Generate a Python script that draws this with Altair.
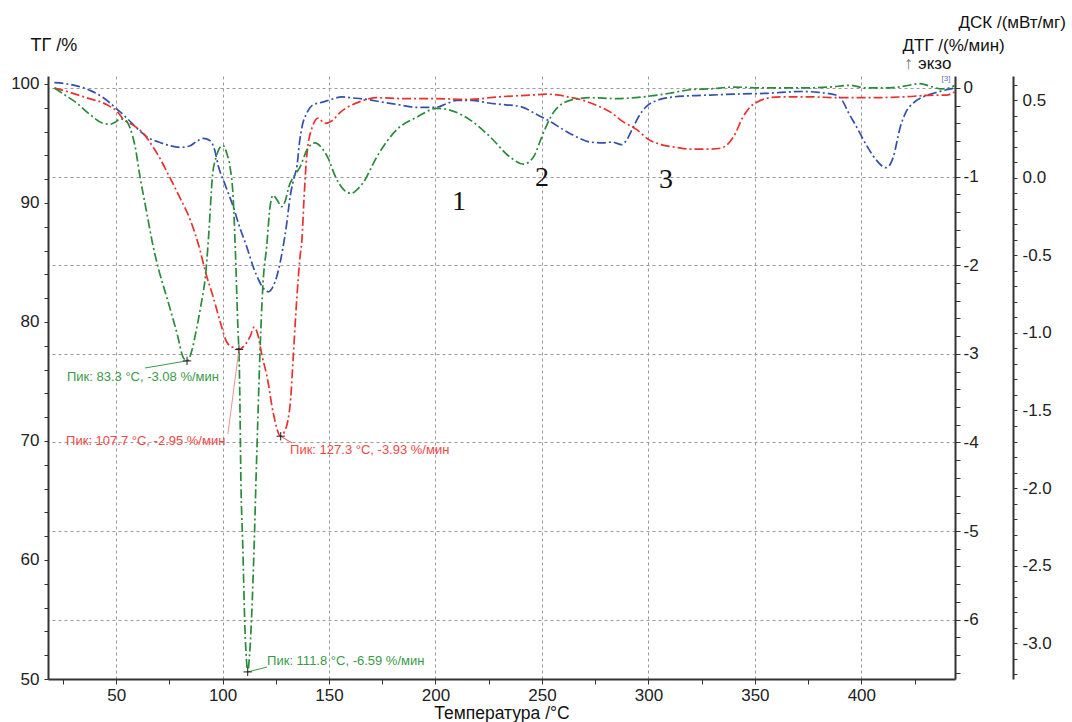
import altair as alt
import pandas as pd

# ---------------- data (T in °C, DTG in %/min) ----------------
blue_t = [21, 26, 32, 38, 44, 50, 55, 60, 65, 70, 75, 80, 84.5, 88, 90.8, 93, 95, 96.5, 98, 101,
          105, 108, 111.3, 114.4, 117, 119.5, 121.5, 123.5, 126, 128, 130, 131.7, 133.5, 135, 136.2,
          137.3, 139.6, 142.5, 147, 151, 156, 160, 168, 175, 183, 191, 200, 205, 210, 217,
          225, 233, 240, 247.6, 254, 260, 266, 272.5, 278.6, 283, 287.5, 290, 292.7, 296, 299,
          304, 309, 318, 329, 340, 356, 372, 380, 388, 391, 394, 398, 403, 408, 411.3,
          413, 415, 418.3, 421, 424.4, 429, 434, 440, 444]
blue_v = [0.06, 0.05, 0.02, -0.03, -0.11, -0.23, -0.34, -0.46, -0.56, -0.61, -0.65, -0.67, -0.655, -0.60, -0.57,
          -0.58, -0.62, -0.72, -0.88, -1.08, -1.34, -1.57, -1.79, -2.02, -2.17, -2.27, -2.30, -2.25, -2.08, -1.85,
          -1.55, -1.23, -1.02, -0.87, -0.60, -0.44, -0.28, -0.19, -0.16, -0.13, -0.10, -0.11, -0.13, -0.16, -0.19,
          -0.22, -0.22, -0.18, -0.14, -0.14, -0.17, -0.19, -0.21, -0.30, -0.38, -0.47, -0.55, -0.61, -0.62, -0.61,
          -0.64, -0.58, -0.45, -0.30, -0.21, -0.14, -0.11, -0.09, -0.08, -0.07, -0.06, -0.04, -0.05, -0.08, -0.14,
          -0.28, -0.45, -0.67, -0.84, -0.90, -0.88, -0.78, -0.44, -0.27, -0.17, -0.10, -0.06, -0.02, 0.0]

red_t = [21, 27, 36, 45.7, 51, 53.3, 58, 62.7, 67.4, 70, 75, 80, 85, 89.4, 92, 95.6, 99, 102, 105, 107.7,
         110.5, 113, 114.8, 116.5, 118.5, 120.9, 123.8, 127.3, 129, 130.7, 132, 133.1, 134.9, 136.4, 137.3,
         138.2, 139.6, 142, 144.9, 148, 151.4, 155, 160, 165, 172.5, 185, 200, 215, 230, 245,
         252, 258, 262, 268, 275, 282, 288, 294.5, 300, 306, 313, 320, 329, 334, 337,
         340, 344.6, 348, 351, 355, 362, 375, 390, 405, 420, 435, 440, 444]
red_v = [0.0, -0.04, -0.11, -0.19, -0.28, -0.35, -0.42, -0.51, -0.67, -0.77, -1.0, -1.24, -1.5, -1.83, -2.08,
         -2.36, -2.65, -2.87, -2.93, -2.95, -2.9, -2.8, -2.70, -2.78, -3.02, -3.26, -3.67, -3.93, -3.88, -3.75,
         -3.5, -3.07, -2.36, -1.9, -1.7, -1.27, -0.75, -0.45, -0.34, -0.40, -0.37, -0.28, -0.20, -0.15, -0.11,
         -0.12, -0.12, -0.13, -0.10, -0.08, -0.07, -0.08, -0.10, -0.13, -0.19, -0.27, -0.38, -0.47, -0.58, -0.64,
         -0.67, -0.69, -0.69, -0.68, -0.64, -0.55, -0.32, -0.21, -0.16, -0.12, -0.10, -0.10, -0.11, -0.11, -0.10,
         -0.08, -0.08, -0.04]

green_t = [21, 26, 31.5, 37.7, 43.9, 47, 50, 51.8, 54.2, 56.5, 58.9, 61.2, 64.4, 67.4, 70, 74, 78.6, 81.5,
           83.3, 85.6, 87.5, 89.4, 92.5, 93.5, 95.3, 97, 98.5, 100.2, 102, 103.5, 105, 106, 107, 108, 108.6,
           109.5, 110.5, 111.2, 111.8, 112.6, 113.7, 114.8, 115.7, 116.6, 117.6, 119, 120.7, 122.3, 123.7,
           125.5, 127.8, 129.5, 131.2, 134, 136.4, 139.6, 143.4, 146.7, 149.5, 153, 157, 160.5, 163, 166,
           172.4, 181.8, 191.2, 200.6, 206.8, 216.2, 225.6, 235, 241.3, 246, 250.6, 255.3, 263.2, 272.6,
           285, 297.6, 310, 319.5, 329, 340, 355, 371, 385, 394.7, 402, 412, 420, 427.6, 432.3, 437, 441, 444]
green_v = [0.0, -0.08, -0.17, -0.30, -0.40, -0.41, -0.38, -0.35, -0.36, -0.45, -0.66, -1.0, -1.41, -1.79,
           -2.05, -2.38, -2.77, -3.04, -3.08, -2.96, -2.75, -2.51, -1.98, -1.65, -0.98, -0.78, -0.68, -0.65,
           -0.74, -0.89, -1.25, -1.83, -2.58, -3.33, -4.42, -5.18, -6.1, -6.45, -6.59, -6.42, -5.93, -5.18,
           -4.42, -3.71, -2.96, -2.2, -1.79, -1.34, -1.21, -1.26, -1.34, -1.27, -1.11, -0.98, -0.89, -0.70,
           -0.62, -0.68, -0.79, -1.0, -1.15, -1.19, -1.15, -1.07, -0.78, -0.47, -0.33, -0.23, -0.25, -0.36,
           -0.55, -0.78, -0.86, -0.78, -0.51, -0.28, -0.14, -0.11, -0.12, -0.10, -0.06, -0.02, -0.01, 0.01,
           0.0, 0.0, 0.01, 0.03, 0.0, 0.0, 0.02, 0.05, 0.02, -0.01, 0.0, 0.03]

series_names = ["зелёная", "красная", "синяя"]
series_colors = ["#2b8a3c", "#e8322f", "#3550a8"]

# peak annotations
peak_t = [83.3, 107.7, 127.3, 111.8]
peak_v = [-3.08, -2.95, -3.93, -6.59]
peak_text = ["Пик: 83.3 °C, -3.08 %/мин", "Пик: 107.7 °C, -2.95 %/мин",
             "Пик: 127.3 °C, -3.93 %/мин", "Пик: 111.8 °C, -6.59 %/мин"]
label_t = [26.9, 26.5, 131.7, 120.9]
label_v = [-3.26, -3.98, -4.09, -6.47]
leader_t = [63.6, 102.5, 132.6, 120.9]
leader_v = [-3.16, -3.905, -4.006, -6.535]
label_colors = ["#3a9a4a", "#f04848", "#f04848", "#3a9a4a"]
leader_colors = ["#3a9a4a", "#f39090", "#f04848", "#3a9a4a"]

# curve numbers
num_text = ["1", "2", "3"]
num_t = [211.0, 250.0, 308.3]
num_v = [-1.29, -1.02, -1.04]

# axes
T_DOMAIN = [18, 444]
DTG_DOMAIN = [-6.67, 0.135]
TG_DOMAIN = [50, 100.67]
DSC_DOMAIN = [-3.23, 0.655]
x_ticks = [25 * i for i in range(1, 18)]
tg_ticks = [50 + 2 * i for i in range(26)]
dtg_ticks = [round(-6.6 + 0.2 * i, 1) for i in range(34)]
dsc_ticks = [round(-3.2 + 0.1 * i, 1) for i in range(39)]

# ---------------- build chart ----------------
FONT = "Liberation Sans"
AXC = "#333333"

rows = []
for name, ts, vs in [("синяя", blue_t, blue_v), ("красная", red_t, red_v), ("зелёная", green_t, green_v)]:
    for t, v in zip(ts, vs):
        rows.append({"T": t, "DTG": v, "curve": name})
curves_df = pd.DataFrame(rows)

ann_df = pd.DataFrame({"T": peak_t, "DTG": peak_v, "text": peak_text, "LT": label_t, "LV": label_v,
                       "ET": leader_t, "EV": leader_v, "lc": label_colors, "rc": leader_colors})
num_df = pd.DataFrame({"T": num_t, "DTG": num_v, "text": num_text})

x_axis = alt.Axis(
    values=x_ticks,
    labelExpr="datum.value % 50 === 0 ? '' + datum.value : ''",
    title="Температура /°C", titleFontSize=17.5, titleFontWeight="normal", titleFont=FONT,
    titlePadding=1, titleColor="#111",
    grid=True, gridDash=[3, 3], gridColor="#9a9a9a", gridWidth=1,
    gridOpacity={"condition": {"test": "datum.value % 50 === 0", "value": 1}, "value": 0},
    tickSize=5, labelPadding=3, labelFontSize=17, labelFont=FONT, labelColor="#222",
    domainColor=AXC, domainWidth=2, tickColor=AXC,
)
x_scale = alt.Scale(domain=T_DOMAIN, nice=False, zero=False)


def xenc(field="T"):
    return alt.X(f"{field}:Q", scale=x_scale, axis=x_axis)


def dtg_scale():
    return alt.Scale(domain=DTG_DOMAIN, nice=False, zero=False)


dtg_axis = alt.Axis(
    orient="right", values=dtg_ticks,
    labelExpr="abs(datum.value - round(datum.value)) < 0.01 ? '' + round(datum.value) : ''",
    grid=True, gridDash=[3, 3], gridColor="#9a9a9a", gridWidth=1,
    gridOpacity={"condition": {"test": "abs(datum.value - round(datum.value)) < 0.01", "value": 1}, "value": 0},
    title="ДТГ /(%/мин)", titleAngle=0, titleAlign="left", titleBaseline="middle",
    titleX=-53, titleY=-31, titleFontSize=17, titleFontWeight="normal", titleFont=FONT, titleColor="#111",
    tickSize=5, labelPadding=3, labelFontSize=17, labelFont=FONT, labelColor="#222",
    domainColor=AXC, domainWidth=2, tickColor=AXC,
)

lines = alt.Chart(curves_df).mark_line(
    strokeDash=[9, 3, 2, 3], strokeWidth=1.7, interpolate="monotone", clip=True
).encode(
    x=xenc(),
    y=alt.Y("DTG:Q", scale=dtg_scale(), axis=dtg_axis),
    color=alt.Color("curve:N", scale=alt.Scale(domain=series_names, range=series_colors), legend=None),
    detail="curve:N",
)

leaders = alt.Chart(ann_df).mark_rule(strokeWidth=1).encode(
    x=xenc(), x2=alt.X2("ET:Q"),
    y=alt.Y("DTG:Q", scale=dtg_scale(), axis=None), y2=alt.Y2("EV:Q"),
    color=alt.Color("rc:N", scale=None),
)

crosses = alt.Chart(ann_df).mark_point(
    shape="M-1,0L1,0M0,-1L0,1", filled=False, size=70, strokeWidth=1, color="#222", opacity=1
).encode(x=xenc(), y=alt.Y("DTG:Q", scale=dtg_scale(), axis=None))

labels = alt.Chart(ann_df).mark_text(align="left", baseline="middle", fontSize=13, font=FONT).encode(
    x=xenc("LT"), y=alt.Y("LV:Q", scale=dtg_scale(), axis=None),
    text="text:N", color=alt.Color("lc:N", scale=None),
)

numbers = alt.Chart(num_df).mark_text(
    align="center", baseline="middle", fontSize=28, font="Liberation Serif", color="#111"
).encode(x=xenc(), y=alt.Y("DTG:Q", scale=dtg_scale(), axis=None), text="text:N")

one = pd.DataFrame({"k": [0]})
exo_arrow = alt.Chart(one).mark_text(text="↑", align="left", baseline="middle", fontSize=18,
                                     font=FONT, color="#777").encode(x=alt.value(856), y=alt.value(-12))
exo_text = alt.Chart(one).mark_text(text="экзо", align="left", baseline="middle", fontSize=17,
                                    font=FONT, color="#111").encode(x=alt.value(870), y=alt.value(-12))
tag = alt.Chart(one).mark_text(text="[3]", align="center", baseline="middle", fontSize=8,
                               font=FONT, color="#6070c0").encode(x=alt.value(898), y=alt.value(3))

tg_df = pd.DataFrame({"T": [T_DOMAIN[0], T_DOMAIN[0]], "TG": TG_DOMAIN})
tg_layer = alt.Chart(tg_df).mark_point(opacity=0).encode(
    x=xenc(),
    y=alt.Y("TG:Q", scale=alt.Scale(domain=TG_DOMAIN, nice=False, zero=False),
            axis=alt.Axis(orient="left", values=tg_ticks,
                          labelExpr="datum.value % 10 === 0 ? '' + datum.value : ''",
                          grid=False, title="ТГ /%", titleAngle=0, titleAlign="left",
                          titleBaseline="middle", titleX=-18, titleY=-31, titleFontSize=18,
                          titleFontWeight="normal", titleFont=FONT, titleColor="#111",
                          tickSize=4, labelPadding=5, labelFontSize=17, labelFont=FONT,
                          labelColor="#222", domainColor=AXC, domainWidth=2, tickColor=AXC)),
)

dsc_df = pd.DataFrame({"T": [T_DOMAIN[0], T_DOMAIN[0]], "DSC": DSC_DOMAIN})
dsc_layer = alt.Chart(dsc_df).mark_point(opacity=0).encode(
    x=xenc(),
    y=alt.Y("DSC:Q", scale=alt.Scale(domain=DSC_DOMAIN, nice=False, zero=False),
            axis=alt.Axis(orient="right", offset=58, values=dsc_ticks,
                          labelExpr="abs(datum.value * 2 - round(datum.value * 2)) < 0.01 ? "
                                    "(datum.value < -0.01 ? '-' : '') + format(abs(datum.value), '.1f') : ''",
                          grid=False, title="ДСК /(мВт/мг)", titleAngle=0, titleAlign="left",
                          titleBaseline="middle", titleX=-55, titleY=-54, titleFontSize=17,
                          titleFontWeight="normal", titleFont=FONT, titleColor="#111",
                          tickSize=4, labelPadding=5, labelFontSize=17, labelFont=FONT,
                          labelColor="#222", domainColor=AXC, domainWidth=2, tickColor=AXC)),
)

chart = alt.layer(
    tg_layer, lines, leaders, crosses, labels, numbers, exo_arrow, exo_text, tag, dsc_layer
).resolve_scale(y="independent").properties(
    width=907, height=603,
    autosize=alt.AutoSizeParams(type="none"),
    padding={"left": 48, "top": 76, "right": 117, "bottom": 43},
    background="white",
).configure_view(stroke=None)

chart.save("out.html", embed_options={"renderer": "svg", "actions": False})
